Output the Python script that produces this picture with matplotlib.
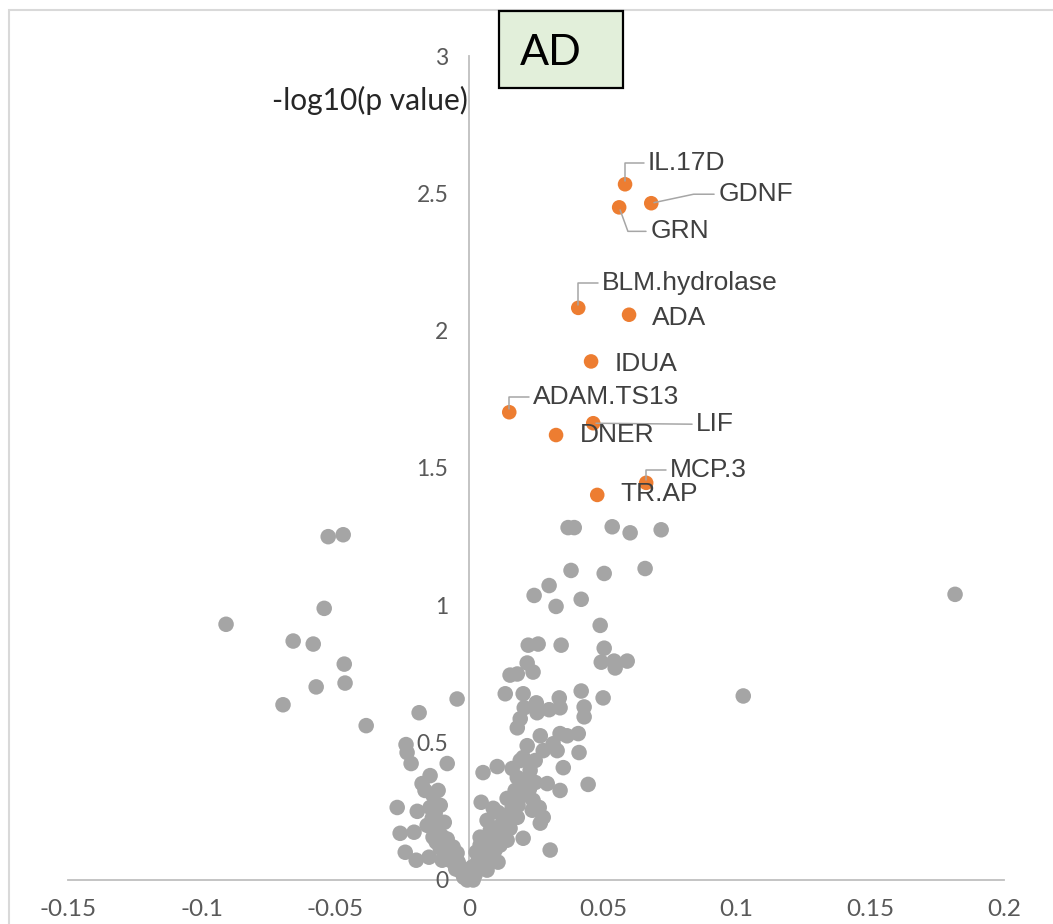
import matplotlib
matplotlib.use("Agg")
import matplotlib.pyplot as plt
from matplotlib.patches import Rectangle

# proteins that pass the threshold (log fold change, -log10 p)
sig_names = ["IL.17D", "GDNF", "GRN", "BLM.hydrolase", "ADA", "IDUA",
             "ADAM.TS13", "LIF", "DNER", "MCP.3", "TR.AP"]
sig_x = [0.0583, 0.0681, 0.0561, 0.0408, 0.0598, 0.0456,
         0.0150, 0.0464, 0.0325, 0.0662, 0.0479]
sig_y = [2.533, 2.464, 2.449, 2.083, 2.058, 1.888,
         1.703, 1.663, 1.620, 1.446, 1.402]

# everything else
gray_x = [
    0.0370, 0.0393, 0.0535, 0.0602, 0.0718, 0.0381, 0.0505, 0.0658, 0.0299, 0.0243,
    0.0325, 0.0419, 0.0490, 0.0221, 0.0258, 0.0344, 0.0505, 0.0217, 0.0239, 0.0494,
    0.0542, 0.0591, 0.0546, 0.0153, 0.0180, 0.1817, 0.1025, 0.0419, 0.0501, 0.0430,
    0.0430, 0.0337, 0.0340, 0.0299, 0.0251, 0.0254, 0.0206, 0.0202, 0.0340, 0.0408,
    0.0266, 0.0366, 0.0135, 0.0191, 0.0180, 0.0217, 0.0202, 0.0277, 0.0329, 0.0352,
    0.0340, 0.0303, 0.0445, 0.0314, 0.0411, 0.0247, 0.0292, 0.0052, 0.0105, 0.0161,
    0.0180, 0.0045, 0.0090, 0.0142, 0.0161, 0.0191, 0.0239, 0.0262, 0.0236, 0.0277,
    0.0266, 0.0067, 0.0097, 0.0142, 0.0180, 0.0202, 0.0041, 0.0090, 0.0142, 0.0060,
    0.0108, 0.0034, 0.0067, 0.0011, -0.0007, 0.0015,
    0.0022, 0.0041, 0.0060, 0.0079, 0.0097, 0.0116, 0.0135, 0.0153, 0.0127, 0.0165,
    0.0183, 0.0202, 0.0217, 0.0172, 0.0209, 0.0228, 0.0191, 0.0247, 0.0108, 0.0079,
    0.0041, 0.0026, 0.0004, 0.0015, 0.0071, 0.0090, 0.0116, 0.0146, 0.0172, 0.0198,
    0.0120, 0.0150, 0.0185, 0.0225, 0.0100, 0.0130, 0.0060, 0.0030,
    -0.0527, -0.0471, -0.0542, -0.0909, -0.0658, -0.0583, -0.0467, -0.0464, -0.0572, -0.0696,
    -0.0385, -0.0187, -0.0045, -0.0236, -0.0232, -0.0217, -0.0082, -0.0146, -0.0176, -0.0135,
    -0.0269, -0.0194, -0.0146, -0.0093, -0.0258, -0.0206, -0.0135, -0.0082, -0.0060, -0.0239,
    -0.0198, -0.0150, -0.0101, -0.0045, -0.0034, -0.0007,
    -0.0015, -0.0052, -0.0071, -0.0090, -0.0108, -0.0123, -0.0138, -0.0157, -0.0120, -0.0101,
    -0.0079, -0.0064, -0.0041, -0.0026, -0.0127, -0.0108, -0.0165, -0.0116,
    -0.0030, -0.0050, -0.0020,
]
gray_y = [
    1.283, 1.283, 1.286, 1.264, 1.275, 1.127, 1.116, 1.134, 1.072, 1.036,
    0.996, 1.022, 0.927, 0.855, 0.859, 0.855, 0.844, 0.790, 0.757, 0.793,
    0.797, 0.797, 0.772, 0.746, 0.750, 1.040, 0.670, 0.688, 0.663, 0.630,
    0.594, 0.663, 0.627, 0.620, 0.645, 0.609, 0.627, 0.678, 0.533, 0.533,
    0.525, 0.525, 0.678, 0.587, 0.554, 0.489, 0.446, 0.471, 0.471, 0.409,
    0.326, 0.109, 0.348, 0.496, 0.464, 0.355, 0.351, 0.391, 0.413, 0.406,
    0.373, 0.283, 0.261, 0.297, 0.264, 0.308, 0.290, 0.264, 0.254, 0.228,
    0.207, 0.217, 0.188, 0.217, 0.228, 0.152, 0.156, 0.145, 0.145, 0.098,
    0.065, 0.072, 0.036, 0.047, 0.011, 0.000,
    0.018, 0.043, 0.065, 0.091, 0.109, 0.127, 0.163, 0.188, 0.199, 0.236,
    0.272, 0.308, 0.333, 0.326, 0.362, 0.399, 0.435, 0.435, 0.246, 0.181,
    0.127, 0.101, 0.025, 0.036, 0.116, 0.152, 0.196, 0.225, 0.290, 0.344,
    0.170, 0.240, 0.300, 0.330, 0.140, 0.210, 0.080, 0.060,
    1.250, 1.257, 0.989, 0.931, 0.870, 0.859, 0.786, 0.717, 0.703, 0.638,
    0.562, 0.609, 0.659, 0.493, 0.464, 0.424, 0.424, 0.380, 0.351, 0.308,
    0.264, 0.250, 0.264, 0.210, 0.170, 0.174, 0.156, 0.149, 0.120, 0.101,
    0.072, 0.083, 0.072, 0.098, 0.047, 0.000,
    0.018, 0.051, 0.072, 0.101, 0.116, 0.138, 0.225, 0.199, 0.188, 0.159,
    0.127, 0.083, 0.065, 0.029, 0.243, 0.272, 0.326, 0.326,
    0.030, 0.040, 0.010,
]

x_ticks = [-0.15, -0.1, -0.05, 0, 0.05, 0.1, 0.15, 0.2]
x_tick_labels = ["-0.15", "-0.1", "-0.05", "0", "0.05", "0.1", "0.15", "0.2"]
y_ticks = [0, 0.5, 1, 1.5, 2, 2.5, 3]
y_tick_labels = ["0", "0.5", "1", "1.5", "2", "2.5", "3"]

# label placement: (dx, dy) in pixels from the dot, leader line style
label_layout = {
    "IL.17D": ((23, 21), "angle,angleA=180,angleB=90,rad=0"),
    "GDNF": ((67, 9), "angle,angleA=180,angleB=12,rad=0"),
    "GRN": ((31, -24), "angle,angleA=180,angleB=110,rad=0"),
    "BLM.hydrolase": ((24, 25), "angle,angleA=180,angleB=90,rad=0"),
    "ADA": ((23, -3), None),
    "IDUA": ((24, -3), None),
    "ADAM.TS13": ((24, 15), "angle,angleA=180,angleB=90,rad=0"),
    "LIF": ((103, -1), "arc3,rad=0"),
    "DNER": ((24, 0), None),
    "MCP.3": ((24, 13), "angle,angleA=180,angleB=90,rad=0"),
    "TR.AP": ((23, 1), None),
}

W, H, DPI = 1053, 924, 100
fig = plt.figure(figsize=(W / DPI, H / DPI), dpi=DPI)
ax = fig.add_axes([68 / W, 1 - 880 / H, (1004 - 68) / W, (880 - 56) / H])

ax.scatter(gray_x, gray_y, s=125, color="#A5A5A5", edgecolors="none",
           zorder=2, clip_on=False)
ax.scatter(sig_x, sig_y, s=110, color="#ED7D31", edgecolors="none", zorder=3)

px2pt = 72 / DPI
for name, x, y in zip(sig_names, sig_x, sig_y):
    (dx, dy), conn = label_layout[name]
    arrow = None
    if conn:
        arrow = dict(arrowstyle="-", color="#A6A6A6", lw=1.1, relpos=(0, 0.5),
                     connectionstyle=conn, shrinkA=1, shrinkB=2)
    ax.annotate(name, (x, y), xytext=(dx * px2pt, dy * px2pt),
                textcoords="offset points", ha="left", va="center",
                fontsize=19, family="Liberation Sans", color="#404040",
                arrowprops=arrow, zorder=4)

ax.set_xlim(-0.15, 0.2)
ax.set_ylim(0, 3)
ax.set_xticks(x_ticks)
ax.set_xticklabels(x_tick_labels)
ax.set_yticks(y_ticks)
ax.set_yticklabels(y_tick_labels)

for side in ["top", "right"]:
    ax.spines[side].set_visible(False)
ax.spines["left"].set_position(("data", 0))
for side in ["left", "bottom"]:
    ax.spines[side].set_color("#BFBFBF")
    ax.spines[side].set_linewidth(1.3)
    ax.spines[side].set_zorder(1)
ax.tick_params(axis="both", length=0, colors="#595959")
ax.tick_params(axis="x", pad=14, labelsize=17.5)
ax.tick_params(axis="y", pad=15, labelsize=16.5)
for lab in ax.get_xticklabels() + ax.get_yticklabels():
    lab.set_family("Lato")

# axis title sitting left of the vertical axis
fig.text(468 / W, 1 - 100 / H, "-log10(p value)", ha="right", va="center",
         fontsize=21.5, family="Lato", color="#262626")

# chart frame (only top and left edges fall inside the image)
fig.patches.append(Rectangle((9 / W, -0.5), 1.5, 1.5 - 10 / H,
                             transform=fig.transFigure, fill=False,
                             edgecolor="#D9D9D9", lw=1.5))

# panel tag
fig.patches.append(Rectangle((499 / W, 1 - 88 / H), 124 / W, 77 / H,
                             transform=fig.transFigure, facecolor="#E2EFDA",
                             edgecolor="black", lw=1.6, zorder=5))
fig.text(520 / W, 1 - 53 / H, "AD", ha="left", va="center", fontsize=31,
         family="Lato", color="black", zorder=6)

fig.savefig("out.png", dpi=DPI, facecolor="white")
